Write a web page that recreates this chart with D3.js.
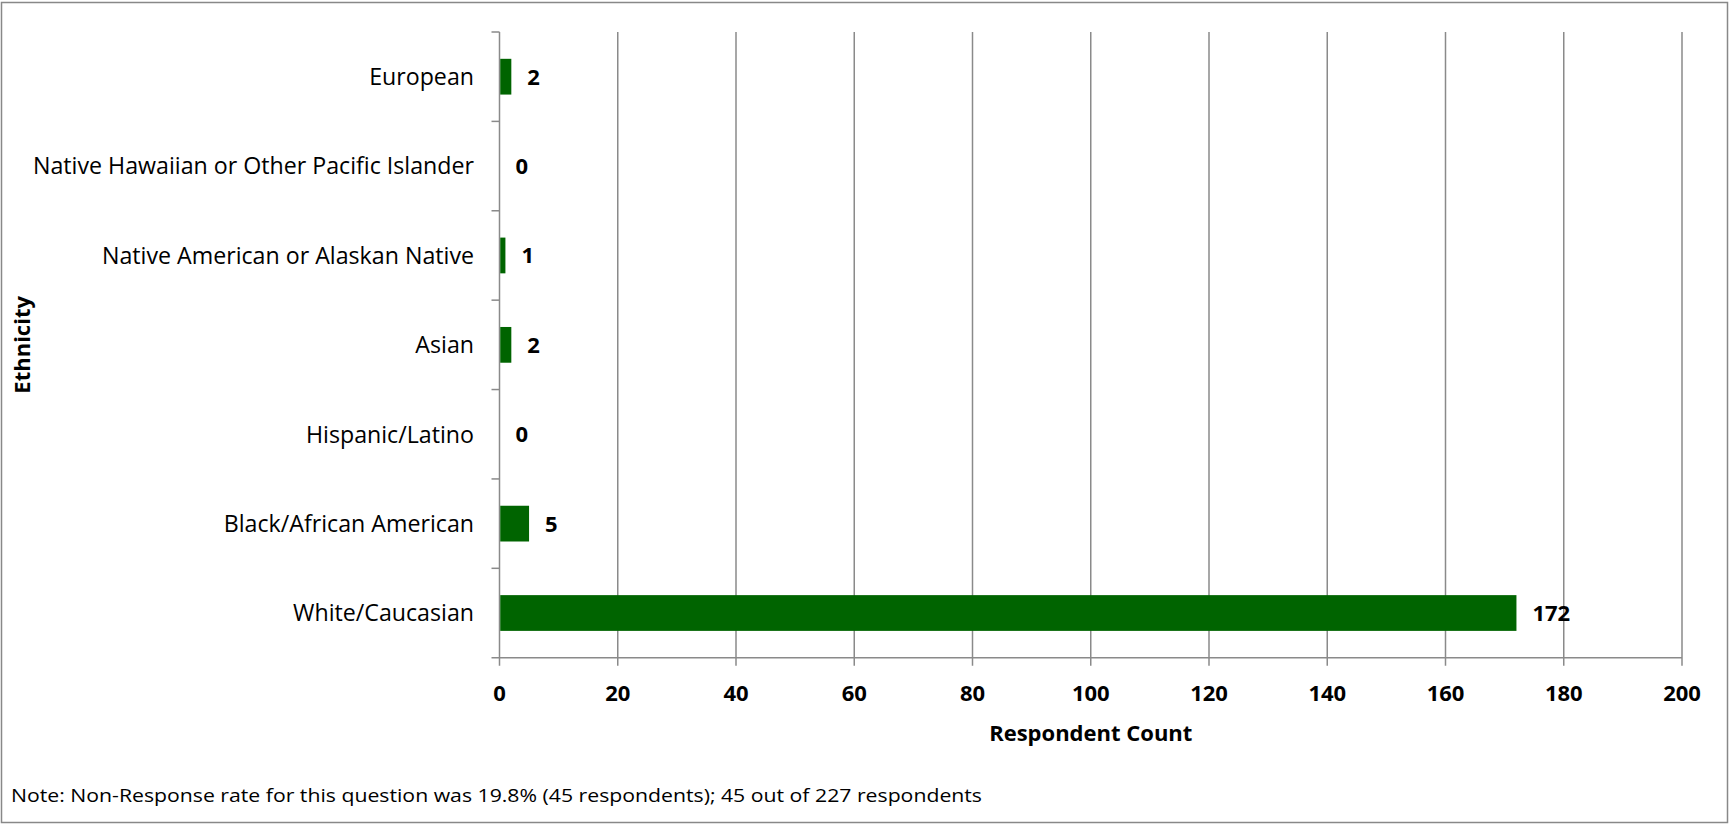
<!DOCTYPE html>
<html><head><meta charset="utf-8">
<script src="https://cdn.jsdelivr.net/npm/d3@7"></script>
<style>body{margin:0;background:#fff}svg{display:block}text{font-family:"Open Sans",sans-serif}</style>
</head><body>
<script>
const categories = ["European","Native Hawaiian or Other Pacific Islander","Native American or Alaskan Native","Asian","Hispanic/Latino","Black/African American","White/Caucasian"];
const values = [2,0,1,2,0,5,172];
const xTicks = [0,20,40,60,80,100,120,140,160,180,200];
const xTitle = "Respondent Count";
const yTitle = "Ethnicity";
const note = "Note: Non-Response rate for this question was 19.8% (45 respondents); 45 out of 227 respondents";

(function(){
const W=1730,H=825;
const pL=499.5,pR=1682,pT=32,pB=657.7;
const svg=d3.select("body").append("svg").attr("width",W).attr("height",H);
svg.append("rect").attr("x",1.5).attr("y",2.5).attr("width",W-4).attr("height",H-5).attr("fill","#fff").attr("stroke","#888").attr("stroke-width",1.5);

const x=d3.scaleLinear().domain([0,200]).range([pL,pR]);
const y=d3.scaleBand().domain(categories).range([pT,pB]).paddingInner(0.6).paddingOuter(0.3);
const band=d3.scaleBand().domain(categories).range([pT,pB]);

svg.append("g").selectAll("line").data(xTicks.slice(1)).join("line")
 .attr("x1",d=>x(d)).attr("x2",d=>x(d)).attr("y1",pT).attr("y2",pB+8)
 .attr("stroke","#8a8a8a").attr("stroke-width",1.5);
svg.append("line").attr("x1",pL-8).attr("x2",pR).attr("y1",pB).attr("y2",pB).attr("stroke","#8a8a8a").attr("stroke-width",1.5);
svg.append("line").attr("x1",pL).attr("x2",pL).attr("y1",pT).attr("y2",pB+8).attr("stroke","#8a8a8a").attr("stroke-width",1.5);
const bounds=categories.map(c=>band(c));
svg.append("g").selectAll("line").data(bounds).join("line")
 .attr("x1",pL-8).attr("x2",pL).attr("y1",d=>d).attr("y2",d=>d).attr("stroke","#8a8a8a").attr("stroke-width",1.5);

svg.append("g").selectAll("rect").data(values).join("rect")
 .attr("x",x(0)+0.75).attr("y",(d,i)=>y(categories[i])).attr("height",y.bandwidth())
 .attr("width",d=>Math.max(0,x(d)-x(0)-0.75)).attr("fill","#006400");

svg.append("g").selectAll("text").data(values).join("text")
 .attr("x",d=>x(d)+16).attr("y",(d,i)=>band(categories[i])+band.bandwidth()/2).attr("dy","0.36em")
 .attr("font-size",22).attr("font-weight","bold").text(d=>d);

svg.append("g").selectAll("text").data(categories).join("text")
 .attr("x",474).attr("y",d=>band(d)+band.bandwidth()/2).attr("dy","0.36em").attr("text-anchor","end")
 .attr("font-size",23.2).text(d=>d);

svg.append("g").selectAll("text").data(xTicks).join("text")
 .attr("x",d=>x(d)).attr("y",692.7).attr("dy","0.36em").attr("text-anchor","middle")
 .attr("font-size",22).attr("font-weight","bold").text(d=>d);

svg.append("text").attr("x",(pL+pR)/2).attr("y",732.6).attr("dy","0.36em").attr("text-anchor","middle")
 .attr("font-size",22).attr("font-weight","bold").text(xTitle);
svg.append("text").attr("transform",`translate(22,${(pT+pB)/2}) rotate(-90)`).attr("dy","0.36em").attr("text-anchor","middle")
 .attr("font-size",22).attr("font-weight","bold").text(yTitle);
svg.append("text").attr("x",11).attr("y",795).attr("dy","0.36em").attr("font-size",19)
 .attr("textLength",971).attr("lengthAdjust","spacingAndGlyphs").text(note);
})();
</script>
</body></html>
